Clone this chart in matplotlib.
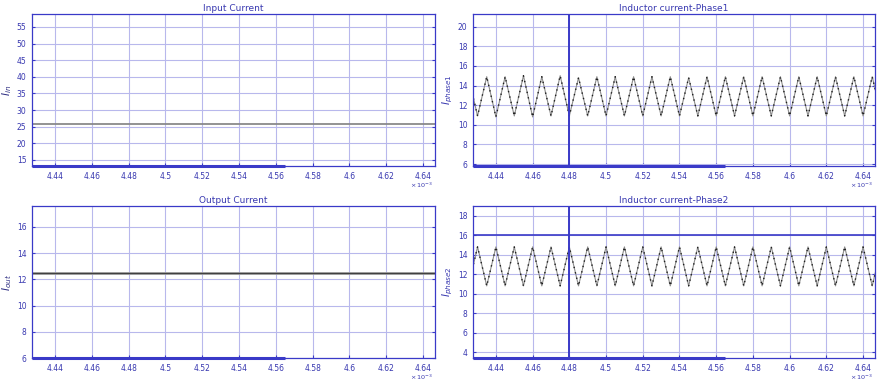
# plot.py - two-phase interleaved converter waveforms (MATLAB-style scope view)

import matplotlib.pyplot as plt
from matplotlib.ticker import FuncFormatter

# time axis in units of 1e-3 s
t_ticks = [4.44, 4.46, 4.48, 4.5, 4.52, 4.54, 4.56, 4.58, 4.6, 4.62, 4.64]

# input / output current (flat DC levels)
t_dc = [4.4275, 4.6465]
i_in = [25.8, 25.8]
i_out = [12.5, 12.5]

# triangle vertices of the inductor currents
t_tri = [4.425, 4.430, 4.435, 4.440, 4.445, 4.450, 4.455, 4.460, 4.465, 4.470,
         4.475, 4.480, 4.485, 4.490, 4.495, 4.500, 4.505, 4.510, 4.515, 4.520,
         4.525, 4.530, 4.535, 4.540, 4.545, 4.550, 4.555, 4.560, 4.565, 4.570,
         4.575, 4.580, 4.585, 4.590, 4.595, 4.600, 4.605, 4.610, 4.615, 4.620,
         4.625, 4.630, 4.635, 4.640, 4.645, 4.650]
i_phase1 = [14.9, 10.9, 14.9, 10.8, 14.9, 10.9, 15.0, 10.8, 14.9, 10.9,
            15.0, 10.9, 14.8, 10.9, 14.9, 10.9, 14.9, 10.9, 14.9, 10.9,
            14.9, 10.9, 14.9, 10.9, 14.8, 10.9, 14.9, 10.9, 14.9, 10.9,
            14.9, 10.9, 14.9, 10.9, 14.9, 10.9, 14.9, 10.9, 14.9, 10.9,
            14.9, 10.9, 14.9, 10.9, 14.9, 10.9]
i_phase2 = [10.8, 14.8, 10.8, 14.8, 10.8, 14.8, 10.8, 14.8, 10.8, 14.8,
            10.8, 14.8, 10.8, 14.8, 10.8, 14.8, 10.8, 14.8, 10.8, 14.8,
            10.8, 14.8, 10.8, 14.8, 10.8, 14.8, 10.8, 14.8, 10.8, 14.8,
            10.8, 14.8, 10.8, 14.8, 10.8, 14.8, 10.8, 14.8, 10.8, 14.8,
            10.8, 14.8, 10.8, 14.8, 10.8, 14.8]

yt_in = [15, 20, 25, 30, 35, 40, 45, 50, 55]
yt_out = [6, 8, 10, 12, 14, 16]
yt_ph1 = [6, 8, 10, 12, 14, 16, 18, 20]
yt_ph2 = [4, 6, 8, 10, 12, 14, 16, 18]

BLUE = '#3a3ac8'
GRID = '#b8b8ec'
TXT = '#3838b0'

fig = plt.figure(figsize=(8.77, 3.86), dpi=100)
fmt = FuncFormatter(lambda v, p: '%g' % v)


def style(ax, ylim, yticks, title, ylabel, lblcolor):
	ax.set_xlim(4.4275, 4.6465)
	ax.set_ylim(*ylim)
	ax.set_xticks(t_ticks)
	ax.set_yticks(yticks)
	ax.xaxis.set_major_formatter(fmt)
	ax.yaxis.set_major_formatter(fmt)
	ax.grid(True, color=GRID, lw=0.8)
	ax.set_axisbelow(True)
	for s in ax.spines.values():
		s.set_color(BLUE)
		s.set_linewidth(0.9)
	ax.tick_params(direction='in', length=2.5, color=BLUE, labelcolor=TXT,
	               labelsize=5.5, pad=4, right=True, top=False)
	ax.set_title(title, fontsize=6.5, color=TXT, pad=2)
	ax.set_ylabel(ylabel, fontsize=7.5, color=lblcolor, labelpad=2)
	ax.text(0.995, -0.13, r'$\times\,10^{-3}$', transform=ax.transAxes,
	        fontsize=4.6, color=TXT, ha='right', va='center')
	# thicker bottom stroke on the left part (screen capture artefact)
	ax.plot([4.4275, 4.565], [ylim[0], ylim[0]], color=BLUE, lw=2.2,
	        clip_on=False, solid_capstyle='butt')


ax1 = fig.add_axes([0.0365, 0.570, 0.4595, 0.394])
ax1.plot(t_dc, i_in, color='#8a8a8a', lw=1.3)
style(ax1, (13.2, 58.9), yt_in, 'Input Current', r'$I_{in}$', '#2a2a80')

ax2 = fig.add_axes([0.5393, 0.570, 0.4584, 0.394])
ax2.plot(t_tri, i_phase1, color='#8c8c8c', lw=0.8)
ax2.plot(t_tri, i_phase1, color='#202020', lw=1.0, ls=(0, (1, 3)))
ax2.axvline(4.48, color=BLUE, lw=1.4)
style(ax2, (5.8, 21.3), yt_ph1, 'Inductor current-Phase1', r'$I_{phase1}$', TXT)

ax3 = fig.add_axes([0.0365, 0.0725, 0.4595, 0.394])
ax3.plot(t_dc, i_out, color='#9a9a9a', lw=2.0)
ax3.plot(t_dc, i_out, color='#404040', lw=0.8)
style(ax3, (6.0, 17.6), yt_out, 'Output Current', r'$I_{out}$', '#2a2a80')

ax4 = fig.add_axes([0.5393, 0.0725, 0.4584, 0.394])
ax4.plot(t_tri, i_phase2, color='#8c8c8c', lw=0.8)
ax4.plot(t_tri, i_phase2, color='#202020', lw=1.0, ls=(0, (1, 3)))
ax4.axvline(4.48, color=BLUE, lw=1.4)
ax4.axhline(16, color=BLUE, lw=1.2)
style(ax4, (3.4, 19.0), yt_ph2, 'Inductor current-Phase2', r'$I_{phase2}$', TXT)

fig.savefig('out.png', dpi=100)
